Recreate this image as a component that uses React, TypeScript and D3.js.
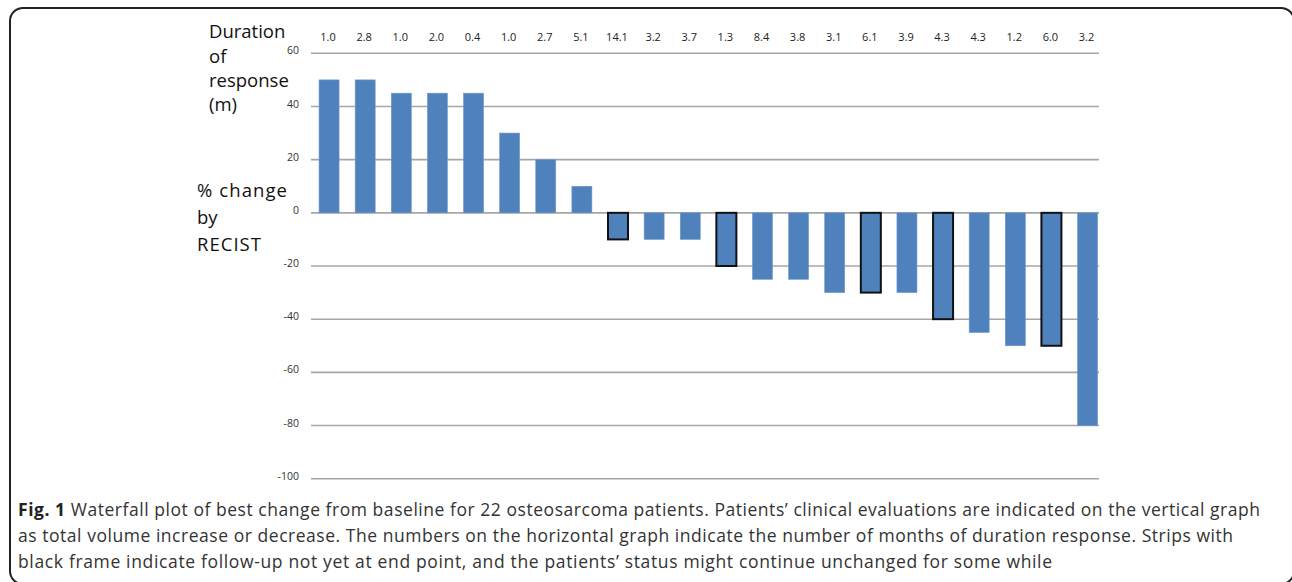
import React from 'react';
import * as d3 from 'd3';

// % change by RECIST per patient, sorted as in the figure
const patients = d3.range(1, 23).map(String);
const change = [50, 50, 45, 45, 45, 30, 20, 10, -10, -10, -10, -20, -25, -25, -30, -30, -30, -40, -45, -50, -50, -80];
const duration = ['1.0', '2.8', '1.0', '2.0', '0.4', '1.0', '2.7', '5.1', '14.1', '3.2', '3.7', '1.3', '8.4', '3.8', '3.1', '6.1', '3.9', '4.3', '4.3', '1.2', '6.0', '3.2'];
// strips with black frame = follow-up not yet at end point
const framed = [9, 12, 16, 18, 21];
const yTicks = [60, 40, 20, 0, -20, -40, -60, -80, -100];

const captionLines = [
  'Waterfall plot of best change from baseline for 22 osteosarcoma patients. Patients\u2019 clinical evaluations are indicated on the vertical graph',
  'as total volume increase or decrease. The numbers on the horizontal graph indicate the number of months of duration response. Strips with',
  'black frame indicate follow-up not yet at end point, and the patients\u2019 status might continue unchanged for some while',
];

export default function App() {
  const width = 1292;
  const height = 582;
  const blue = '#4f81bd';
  const font = "'Open Sans', sans-serif";

  const xScale = d3.scaleBand()
    .domain(patients)
    .range([311, 1105.6])
    .paddingInner(0.446)
    .paddingOuter(0.223);

  const yScale = d3.scaleLinear()
    .domain([-100, 60])
    .range([478.7, 53.3]);

  const gridX1 = 311;
  const gridX2 = 1099;

  return (
    <svg width={width} height={height} style={{ position: 'absolute', left: 0, top: 0 }}>
      <rect x={10} y={8} width={1284} height={576} rx={13} fill="white" stroke="#222" strokeWidth={2} />

      {/* gridlines + y ticks */}
      <g>
        {yTicks.map(t => (
          <g key={t}>
            <line x1={gridX1} x2={gridX2} y1={yScale(t)} y2={yScale(t)} stroke="#a6a6a6" strokeWidth={1.6} />
            <text x={299} y={yScale(t)} dy="0.1em" textAnchor="end" fontSize={10.5} fill="#333" fontFamily={font}>{t}</text>
          </g>
        ))}
      </g>

      {/* bars */}
      <g>
        {change.map((v, i) => {
          const p = patients[i];
          const y0 = yScale(Math.max(0, v));
          const h = Math.abs(yScale(v) - yScale(0));
          const isFramed = framed.includes(i + 1);
          return (
            <rect key={p}
              x={xScale(p)} y={y0} width={xScale.bandwidth()} height={h}
              fill={blue}
              stroke={isFramed ? '#111' : '#6f98cc'}
              strokeWidth={isFramed ? 2 : 0.6} />
          );
        })}
      </g>

      {/* duration of response labels */}
      <g>
        {duration.map((d, i) => (
          <text key={i} x={(xScale(patients[i]) as number) + xScale.bandwidth() / 2 - 1} y={41}
            textAnchor="middle" fontSize={11} fill="#222" fontFamily={font}>{d}</text>
        ))}
      </g>

      {/* left labels */}
      <g fontFamily={font} fontSize={18.5} fill="#111">
        <text x={209} y={38}>Duration</text>
        <text x={209} y={62.5}>of</text>
        <text x={209} y={87}>response</text>
        <text x={209} y={111}>(m)</text>
        <text x={197} y={197} textLength={90} lengthAdjust="spacing">% change</text>
        <text x={197} y={224}>by</text>
        <text x={197} y={251} textLength={64} lengthAdjust="spacing">RECIST</text>
      </g>

      {/* caption */}
      <g fontFamily={font} fontSize={17.5} fill="#333">
        <text x={18} y={516} textLength={1242} lengthAdjust="spacing">
          <tspan fontWeight="bold" fill="#222">Fig. 1</tspan> {captionLines[0]}
        </text>
        <text x={18} y={542} textLength={1215} lengthAdjust="spacing">{captionLines[1]}</text>
        <text x={18} y={568} textLength={1034} lengthAdjust="spacing">{captionLines[2]}</text>
      </g>
    </svg>
  );
}
